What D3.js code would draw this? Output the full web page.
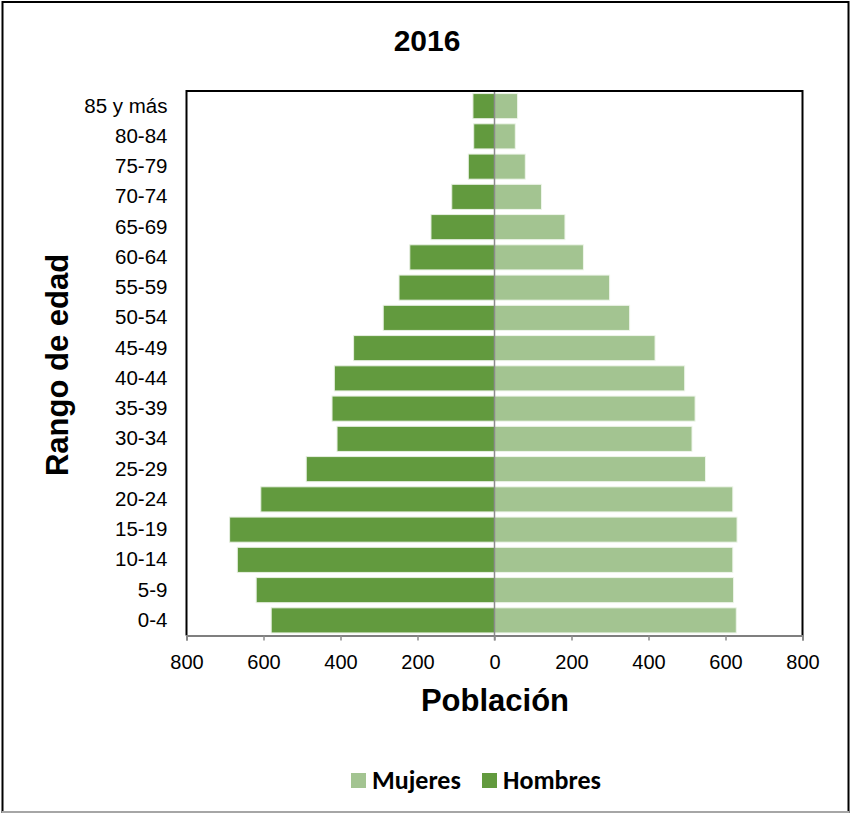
<!DOCTYPE html>
<html>
<head>
<meta charset="utf-8">
<script src="https://cdn.jsdelivr.net/npm/d3@7"></script>
<style>
  html, body { margin: 0; padding: 0; background: #fff; }
  svg { display: block; }
</style>
</head>
<body>
<script>
// ---- data ----
const categories = ["0-4","5-9","10-14","15-19","20-24","25-29","30-34","35-39","40-44",
                    "45-49","50-54","55-59","60-64","65-69","70-74","75-79","80-84","85 y más"];
const hombres = [580, 619, 668, 688, 607, 489, 409, 422, 416, 366, 289, 248, 220, 165, 111, 68, 54, 56];
const mujeres = [628, 621, 619, 630, 619, 548, 513, 521, 494, 417, 351, 299, 231, 183, 122, 80, 54, 60];
const xTicks = [-800, -600, -400, -200, 0, 200, 400, 600, 800];
const seriesNames = ["Mujeres", "Hombres"];
const colors = { Mujeres: "#a3c491", Hombres: "#629a3e" };
const title = "2016";
const xTitle = "Población";
const yTitle = "Rango de edad";

const W = 850, H = 814;
const plot = { left: 186.5, right: 802.5, top: 91, bottom: 635.5 };

const svg = d3.select("body").append("svg").attr("width", W).attr("height", H);

// outer frame
svg.append("rect").attr("x", 2.5).attr("y", 2).attr("width", 846).attr("height", 810)
  .attr("fill", "#fff").attr("stroke", "#000").attr("stroke-width", 2);
svg.append("line").attr("x1", 2).attr("x2", 849).attr("y1", 812).attr("y2", 812)
  .attr("stroke", "#a6a6a6").attr("stroke-width", 2);

const x = d3.scaleLinear().domain([-800, 800]).range([plot.left, plot.right]);
const y = d3.scaleBand().domain(categories.slice().reverse())
  .range([plot.top, plot.bottom]).paddingInner(0.17).paddingOuter(0.085);

const font = "Liberation Sans, Arial, sans-serif";

// bars
const rows = categories.map((c, i) => ({ c, h: hombres[i], m: mujeres[i] }));
svg.append("g").selectAll("rect").data(rows).join("rect")
  .attr("x", d => x(-d.h)).attr("width", d => x(0) - x(-d.h))
  .attr("y", d => y(d.c)).attr("height", y.bandwidth())
  .attr("fill", colors.Hombres).attr("stroke", "#e6efe0").attr("stroke-width", 1);
svg.append("g").selectAll("rect").data(rows).join("rect")
  .attr("x", x(0)).attr("width", d => x(d.m) - x(0))
  .attr("y", d => y(d.c)).attr("height", y.bandwidth())
  .attr("fill", colors.Mujeres).attr("stroke", "#eef5ea").attr("stroke-width", 1);

// zero line
svg.append("line").attr("x1", x(0)).attr("x2", x(0)).attr("y1", plot.top).attr("y2", plot.bottom + 5)
  .attr("stroke", "#8c8c8c").attr("stroke-width", 1.5);

// plot frame (left, top, right)
svg.append("path")
  .attr("d", `M${plot.left},${plot.bottom} V${plot.top} H${plot.right} V${plot.bottom}`)
  .attr("fill", "none").attr("stroke", "#000").attr("stroke-width", 2);

// x axis
const xAxis = svg.append("g").attr("transform", `translate(0,${plot.bottom})`)
  .call(d3.axisBottom(x).tickValues(xTicks).tickFormat(d => Math.abs(d)).tickSize(5).tickPadding(14));
xAxis.select(".domain").attr("stroke", "#7f7f7f").attr("stroke-width", 2);
xAxis.selectAll(".tick line").attr("stroke", "#8c8c8c").attr("stroke-width", 1.5);
xAxis.selectAll(".tick text").attr("font-family", font).attr("font-size", 20).attr("fill", "#000");

// y axis labels
const yAxis = svg.append("g").attr("transform", `translate(${plot.left},0)`)
  .call(d3.axisLeft(y).tickSize(0).tickPadding(19));
yAxis.select(".domain").remove();
yAxis.selectAll(".tick text").attr("font-family", font).attr("font-size", 20.5).attr("fill", "#000");

// titles
svg.append("text").attr("x", 427).attr("y", 51).attr("text-anchor", "middle")
  .attr("font-family", font).attr("font-weight", "bold").attr("font-size", 30).text(title);
svg.append("text").attr("x", 495).attr("y", 711).attr("text-anchor", "middle")
  .attr("font-family", font).attr("font-weight", "bold").attr("font-size", 31).text(xTitle);
svg.append("text").attr("transform", "translate(68,365) rotate(-90)").attr("text-anchor", "middle")
  .attr("font-family", font).attr("font-weight", "bold").attr("font-size", 31).text(yTitle);

// legend
const legX = [351, 482];
const leg = svg.append("g").selectAll("g").data(seriesNames).join("g")
  .attr("transform", (d, i) => `translate(${legX[i]},773)`);
leg.append("rect").attr("width", 15).attr("height", 15).attr("fill", d => colors[d]);
leg.append("text").attr("x", 21).attr("y", 16)
  .attr("font-family", "Carlito, 'Open Sans', sans-serif").attr("font-weight", "bold")
  .attr("font-size", 26).attr("fill", "#000").text(d => d);
</script>
</body>
</html>
